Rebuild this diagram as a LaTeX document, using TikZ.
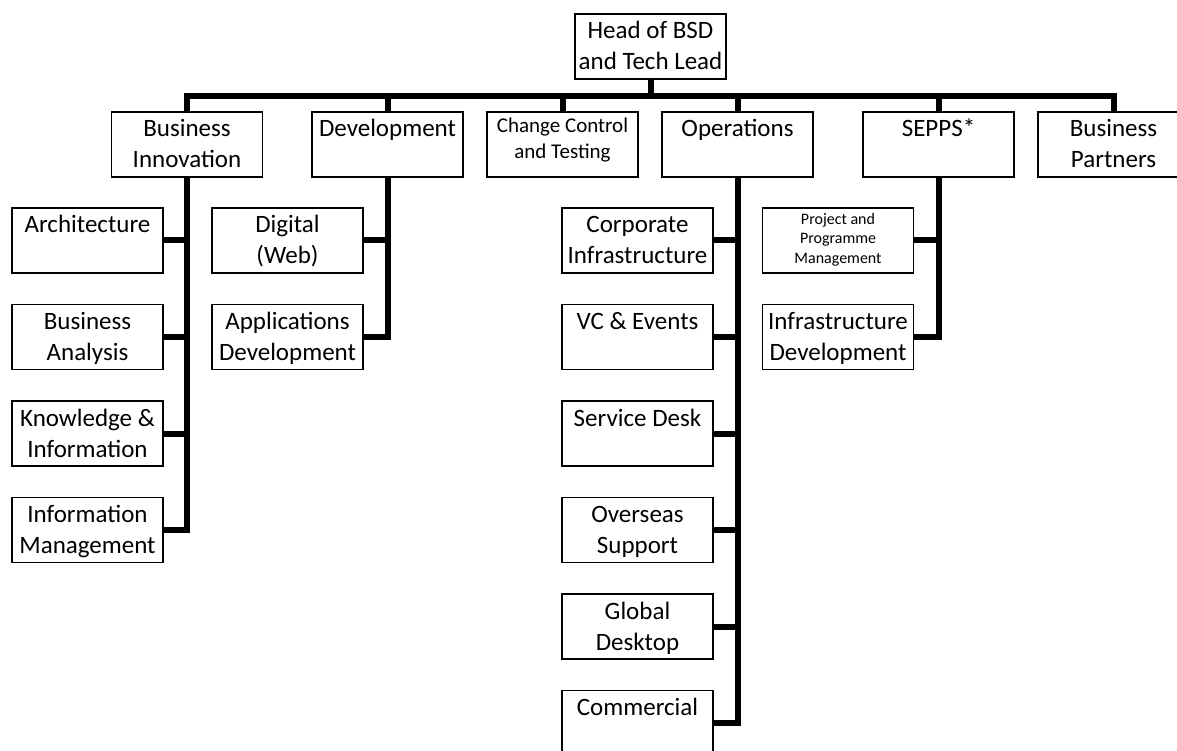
\documentclass[tikz,border=0pt]{standalone}
\usepackage{fontspec}
\setmainfont{Carlito}

\begin{document}
\begin{tikzpicture}[x=1pt,y=-1pt,
  unit/.style={draw,line width=1.5pt,inner sep=0pt,minimum width=151pt,minimum height=65pt,
    text width=151pt,align=flush center,font=\fontsize{25}{31}\selectfont,text height=25pt,text depth=40pt},
  midunit/.style={unit,font=\fontsize{21}{25.6}\selectfont,text height=21pt,text depth=44pt},
  smallunit/.style={unit,font=\fontsize{16}{19.5}\selectfont,text height=16.5pt,text depth=48.5pt},
  link/.style={line width=6pt}]
\useasboundingbox (0,0) rectangle (1177,751);
\clip (0,0) rectangle (1177,751);

\node[unit] (head) at (650.5,46.5) {Head of BSD\\and Tech Lead};

\begin{scope}[every node/.style={unit}]
	\node (bi) at (187,144.5) {Business\\Innovation};
	\node (dev) at (387.5,144.5) {Development};
	\node[midunit] (cct) at (562.5,144.5) {Change Control\\and Testing};
	\node (ops) at (737.5,144.5) {Operations};
	\node (sepps) at (938.5,144.5) {SEPPS*};
	\node (bp) at (1113.5,144.5) {Business\\Partners};

	\node (arch) at (87.5,240.5) {Architecture};
	\node (ba) at (87.5,337) {Business\\Analysis};
	\node (ki) at (87.5,433.5) {Knowledge \&\\Information};
	\node (im) at (87.5,530) {Information\\Management};

	\node (dw) at (287.5,240.5) {Digital\\(Web)};
	\node (ad) at (287.5,337) {Applications\\Development};

	\node (ci) at (637.5,240.5) {Corporate\\Infrastructure};
	\node (vc) at (637.5,337) {VC \& Events};
	\node (sd) at (637.5,433.5) {Service Desk};
	\node (os) at (637.5,530) {Overseas\\Support};
	\node (gd) at (637.5,626.5) {Global\\Desktop};
	\node (com) at (637.5,723) {Commercial};

	\node[smallunit] (ppm) at (838,240.5) {Project and\\Programme\\Management};
	\node (idev) at (838,337) {Infrastructure\\Development};
\end{scope}

\coordinate (bus) at (650.5,96);

\begin{scope}[every path/.style={link}]
	\draw (head.south) -- (bus);
	\foreach \n in {bi,dev,cct,ops,sepps,bp}
		\draw (bus) -| (\n.north);

	\foreach \n in {arch,ba,ki,im}
		\draw (bi.south) |- (\n.east);
	\foreach \n in {dw,ad}
		\draw (dev.south) |- (\n.east);
	\foreach \n in {ci,vc,sd,os,gd,com}
		\draw (ops.south) |- (\n.east);
	\foreach \n in {ppm,idev}
		\draw (sepps.south) |- (\n.east);
\end{scope}

\end{tikzpicture}
\end{document}
